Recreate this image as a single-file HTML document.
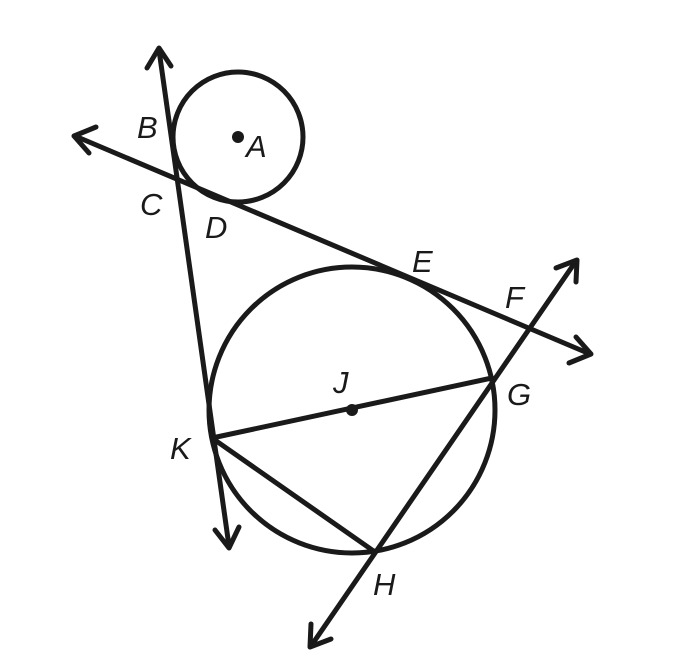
<!DOCTYPE html>
<html><head><meta charset="utf-8"><style>html,body{margin:0;padding:0;background:#fff}svg{display:block}</style></head>
<body>
<svg width="692" height="671" viewBox="0 0 692 671" xmlns="http://www.w3.org/2000/svg">
<g fill="none" stroke="#1a1a1a" stroke-width="5" stroke-linecap="round" stroke-linejoin="round">
<circle cx="238" cy="137" r="65"/>
<circle cx="352" cy="410" r="143"/>
<!-- line B-C-K -->
<line x1="159" y1="50" x2="229" y2="546"/>
<polyline points="147,68 159,48 171,66"/>
<polyline points="215,530 229,548 239,527"/>
<!-- line C-D-E-F -->
<line x1="75" y1="136" x2="590" y2="354"/>
<polyline points="96,127 74,136 89,153"/>
<polyline points="569,363 591,354 576,337"/>
<!-- line H-G-F -->
<line x1="576" y1="261" x2="311" y2="646"/>
<polyline points="556,268 577,260 576,282"/>
<polyline points="311,624 310,647 331,639"/>
<!-- chords -->
<line x1="212" y1="438" x2="492" y2="378"/>
<line x1="212" y1="438" x2="375" y2="552"/>
</g>
<circle cx="238" cy="137" r="6" fill="#1a1a1a"/>
<circle cx="352" cy="410" r="6" fill="#1a1a1a"/>
<g font-family="Liberation Sans, sans-serif" font-style="italic" font-size="31" fill="#1a1a1a">
<text x="137" y="138">B</text>
<text x="246" y="157">A</text>
<text x="140" y="215">C</text>
<text x="205" y="238">D</text>
<text x="412" y="272">E</text>
<text x="505" y="308">F</text>
<text x="333" y="393">J</text>
<text x="507" y="405">G</text>
<text x="170" y="459">K</text>
<text x="373" y="595">H</text>
</g>
</svg>
</body></html>
